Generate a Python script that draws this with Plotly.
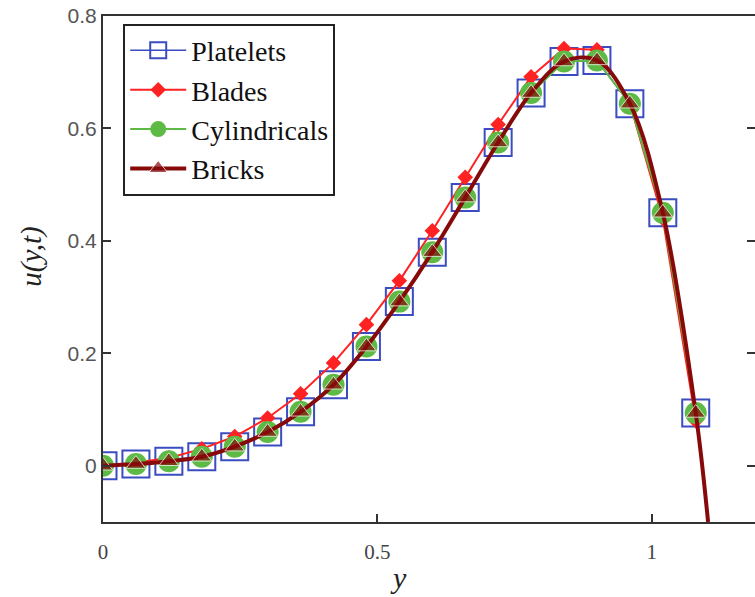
import plotly.graph_objects as go

# Sample positions along y (marker locations)
y_pos = [0.00, 0.06, 0.12, 0.18, 0.24, 0.30, 0.36, 0.42, 0.48, 0.54,
         0.60, 0.66, 0.72, 0.78, 0.84, 0.90, 0.96, 1.02, 1.08]

# Velocity profiles u(y,t) for each nanoparticle shape
u_platelets = [0.000, 0.003, 0.008, 0.016, 0.034, 0.060, 0.096, 0.144, 0.212, 0.292,
               0.380, 0.477, 0.575, 0.663, 0.719, 0.721, 0.644, 0.450, 0.094]
u_blades = [0.000, 0.006, 0.014, 0.030, 0.052, 0.085, 0.128, 0.183, 0.251, 0.329,
            0.418, 0.513, 0.607, 0.692, 0.742, 0.740, 0.645, 0.440, 0.080]
u_cylindricals = [0.000, 0.003, 0.008, 0.016, 0.034, 0.060, 0.096, 0.144, 0.212, 0.292,
                  0.380, 0.477, 0.575, 0.663, 0.719, 0.721, 0.644, 0.450, 0.094]
u_bricks = [0.000, 0.003, 0.008, 0.016, 0.034, 0.060, 0.096, 0.144, 0.212, 0.292,
            0.380, 0.477, 0.575, 0.663, 0.719, 0.721, 0.644, 0.450, 0.094]

# The bricks curve continues past the last marker down to the lower axis
bricks_tail_y = [1.1025]
bricks_tail_u = [-0.10]

x_ticks = [0, 0.5, 1]
y_ticks = [0, 0.2, 0.4, 0.6, 0.8]

X_RANGE = [0, 1.188]
Y_RANGE = [-0.1, 0.8]

AXIS_COLOR = "#333333"

fig = go.Figure()

fig.add_trace(go.Scatter(
    x=y_pos, y=u_platelets, name="Platelets", mode="lines+markers",
    line=dict(color="#3b4cc0", width=1.5),
    marker=dict(symbol="square-open", size=27, color="#3b4cc0", line=dict(width=2, color="#3b4cc0")),
))
fig.add_trace(go.Scatter(
    x=y_pos, y=u_blades, name="Blades", mode="lines+markers",
    line=dict(color="#ff2222", width=2),
    marker=dict(symbol="diamond", size=12, color="#ff2222"),
))
fig.add_trace(go.Scatter(
    x=y_pos, y=u_cylindricals, name="Cylindricals", mode="lines+markers",
    line=dict(color="#5dba45", width=2),
    marker=dict(symbol="circle", size=22, color="#5dba45"),
))
fig.add_trace(go.Scatter(
    x=y_pos + bricks_tail_y, y=u_bricks + bricks_tail_u, name="Bricks", mode="lines+markers",
    line=dict(color="#870a0a", width=4, shape="spline"),
    marker=dict(symbol="triangle-up", size=[17] * len(y_pos) + [0] * len(bricks_tail_y),
                color="#870a0a"),
    yaxis="y2",
))

fig.update_layout(
    width=755, height=597,
    margin=dict(l=103, r=0, t=16, b=75),
    paper_bgcolor="white", plot_bgcolor="white",
    showlegend=True,
    legend=dict(
        x=0.031, y=0.985, xanchor="left", yanchor="top",
        bgcolor="white", bordercolor="#222222", borderwidth=2,
        font=dict(family="Liberation Serif", size=28, color="#111111"),
        itemwidth=56, tracegroupgap=0,
    ),
    xaxis=dict(
        range=X_RANGE, tickvals=x_ticks, ticks="inside", ticklen=8, tickwidth=1.5,
        tickcolor=AXIS_COLOR, showline=True, linewidth=2, linecolor=AXIS_COLOR, mirror=True,
        showgrid=False, zeroline=False, ticklabelstandoff=10,
        tickfont=dict(family="Liberation Serif", size=21, color="#444444"),
    ),
    yaxis=dict(
        range=Y_RANGE, tickvals=y_ticks, ticks="inside", ticklen=8, tickwidth=1.5,
        tickcolor=AXIS_COLOR, showline=True, linewidth=2, linecolor=AXIS_COLOR,
        showgrid=False, zeroline=False,
        tickfont=dict(family="Liberation Sans", size=21, color="#555555"),
    ),
    yaxis2=dict(
        range=Y_RANGE, tickvals=y_ticks, overlaying="y", side="right",
        ticks="inside", ticklen=8, tickwidth=1.5, tickcolor=AXIS_COLOR,
        showticklabels=False, showline=False, showgrid=False, zeroline=False,
    ),
    annotations=[
        dict(text="<i>y</i>", xref="paper", yref="paper", x=0.4527, y=-0.11,
             xanchor="center", yanchor="middle", showarrow=False,
             font=dict(family="Liberation Serif", size=30, color="#222222")),
        dict(text="<i>u(y,t)</i>", xref="paper", yref="paper", x=-0.11, y=0.525,
             xanchor="center", yanchor="middle", showarrow=False, textangle=-90,
             font=dict(family="Liberation Serif", size=29, color="#222222")),
    ],
)

fig.write_html("out.html")
